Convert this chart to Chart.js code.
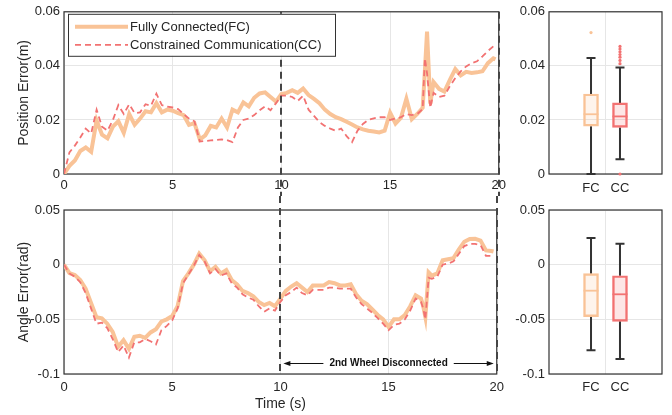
<!DOCTYPE html>
<html>
<head>
<meta charset="utf-8">
<script src="https://cdn.jsdelivr.net/npm/chart.js@4.4.1/dist/chart.umd.min.js"></script>
<style>
  body { margin: 0; background: #fff; }
  #wrap { position: relative; width: 672px; height: 415px; }
  canvas { position: absolute; }
</style>
</head>
<body>
<div id="wrap">
  <canvas id="posLine" width="510" height="196" style="left:0;top:0"></canvas>
  <canvas id="posBox" width="162" height="196" style="left:510px;top:0"></canvas>
  <canvas id="angLine" width="510" height="219" style="left:0;top:196px"></canvas>
  <canvas id="angBox" width="162" height="219" style="left:510px;top:196px"></canvas>
</div>
<script>
// time stamps (s)
const time = [0,0.25,0.5,0.75,1,1.25,1.5,1.75,2,2.25,2.5,2.75,3,3.25,3.5,3.75,4,4.25,4.5,4.75,
  5,5.25,5.5,5.75,6,6.25,6.5,6.75,7,7.25,7.5,7.75,8,8.25,8.5,8.75,9,9.25,9.5,9.75,
  10,10.25,10.5,10.75,11,11.25,11.5,11.75,12,12.25,12.5,12.75,13,13.25,13.5,13.75,14,14.25,14.5,14.75,
  15,15.25,15.5,15.75,16,16.25,16.5,16.6,16.7,16.85,17,17.25,17.5,17.75,18,18.25,18.5,18.75,19,19.25,19.5,19.75,19.85];

// position error (m)
const posFC = [0,0.003,0.005,0.0085,0.0098,0.0082,0.0198,0.0145,0.0132,0.0175,
  0.0195,0.0152,0.0222,0.0182,0.0205,0.0232,0.0228,0.0262,0.0228,0.0238,
  0.0234,0.0225,0.0218,0.0182,0.0188,0.0128,0.0143,0.0178,0.0172,0.0205,
  0.0172,0.0238,0.0228,0.0265,0.0250,0.0282,0.0298,0.0302,0.0285,0.0268,
  0.0296,0.0300,0.0310,0.0300,0.0316,0.0292,0.0278,0.0262,0.0238,0.0222,
  0.0210,0.0203,0.0193,0.0183,0.0172,0.0165,0.0160,0.0157,0.0154,0.0160,
  0.0227,0.0187,0.0208,0.0278,0.0203,0.0222,0.0245,
  0.0380,0.0527,0.0260,
  0.0340,0.0315,0.0305,0.0348,0.0388,0.0365,0.0378,0.0374,0.0376,0.0380,0.0410,0.0428,
  0.0424];
const posCC = [0,0.008,0.0105,0.0135,0.0168,0.0150,0.0238,0.0175,0.0160,0.0200,
  0.0255,0.0222,0.0258,0.0225,0.0228,0.0258,0.0252,0.0297,0.0255,0.0249,
  0.0246,0.0240,0.0222,0.0205,0.0195,0.0120,0.0122,0.0124,0.0126,0.0128,
  0.0125,0.0118,0.0172,0.0200,0.0205,0.0218,0.0236,0.0250,0.0236,0.0262,
  0.0290,0.0290,0.0285,0.0270,0.0290,0.0238,0.0215,0.0192,0.0178,0.0168,
  0.0160,0.0168,0.0140,0.0118,0.0160,0.0185,0.0200,0.0206,0.0210,0.0210,
  0.0200,0.0205,0.0210,0.0222,0.0218,0.0222,0.0240,
  0.0428,0.0373,0.0245,
  0.0300,0.0285,0.0290,0.0325,0.0355,0.0380,0.0398,0.0410,0.0417,0.0435,0.0455,0.0472,
  0.0465];

// angle error (rad)
const angFC = [0,-0.0078,-0.0095,-0.014,-0.022,-0.035,-0.048,-0.049,-0.054,-0.0615,
  -0.075,-0.069,-0.077,-0.066,-0.065,-0.067,-0.062,-0.059,-0.052,-0.050,
  -0.047,-0.038,-0.015,-0.008,0.000,0.010,0.004,-0.006,-0.002,-0.008,
  -0.005,-0.014,-0.018,-0.024,-0.026,-0.029,-0.034,-0.037,-0.035,-0.038,
  -0.031,-0.024,-0.020,-0.017,-0.021,-0.025,-0.019,-0.019,-0.019,-0.016,
  -0.017,-0.019,-0.019,-0.018,-0.027,-0.033,-0.036,-0.041,-0.046,-0.050,
  -0.057,-0.050,-0.050,-0.046,-0.038,-0.028,-0.031,
  -0.038,-0.048,-0.007,
  -0.010,-0.008,0.004,0.005,0.006,0.014,0.021,0.0235,0.0236,0.022,0.013,0.0125,
  0.012];
const angCC = [0,-0.008,-0.011,-0.016,-0.026,-0.040,-0.054,-0.053,-0.058,-0.068,
  -0.080,-0.074,-0.085,-0.071,-0.071,-0.068,-0.070,-0.073,-0.060,-0.056,
  -0.051,-0.040,-0.017,-0.009,-0.001,0.009,0.003,-0.008,-0.004,-0.010,
  -0.008,-0.017,-0.021,-0.027,-0.030,-0.032,-0.038,-0.043,-0.040,-0.042,
  -0.034,-0.028,-0.025,-0.021,-0.026,-0.028,-0.023,-0.023,-0.023,-0.021,
  -0.021,-0.022,-0.022,-0.022,-0.030,-0.036,-0.040,-0.044,-0.049,-0.054,
  -0.060,-0.055,-0.054,-0.050,-0.042,-0.031,-0.034,
  -0.040,-0.050,-0.012,
  -0.013,-0.011,0.000,0.001,0.003,0.010,0.017,0.019,0.019,0.018,0.008,0.008,
  0.007];

// box plot statistics, FC then CC
const boxLabels = ["FC", "CC"];
const posLower = [0, 0.0055];
const posQ1 = [0.0177, 0.0172];
const posMedian = [0.0221, 0.0213];
const posQ3 = [0.0296, 0.0263];
const posUpper = [0.0429, 0.0394];
const posOutliers = [[0.0523], [0, 0.0408, 0.0420, 0.0432, 0.0442, 0.0452, 0.0462, 0.0472]];
const angLower = [-0.0783, -0.0863];
const angQ1 = [-0.0476, -0.0518];
const angMedian = [-0.0238, -0.0271];
const angQ3 = [-0.0082, -0.0101];
const angUpper = [0.0244, 0.0192];
const angOutliers = [[], []];

// wheel 2 cut off between these times
const faultTimes = [10, 20];

const fcColor = "#F9C397";
const ccColor = "#F27272";
const fcFill = "rgba(249,195,151,0.18)";
const ccFill = "rgba(242,114,114,0.18)";
const gridColor = "#e6e6e6";
const axisColor = "#333333";

Chart.defaults.font.family = "Arial, 'Liberation Sans', sans-serif";
Chart.defaults.font.size = 13;
Chart.defaults.color = "#262626";

const fmt = (v) => String(+(+v).toFixed(3));

// box round the plot area
const frame = {
  id: "frame",
  beforeDatasetsDraw(chart) {
    const { ctx, chartArea: a } = chart;
    ctx.save();
    ctx.strokeStyle = axisColor;
    ctx.lineWidth = 1.2;
    ctx.strokeRect(a.left, a.top, a.right - a.left, a.bottom - a.top);
    ctx.restore();
  },
};

// dashed markers at fault start / end, running across both panels
function faultLines(upper) {
  return {
    id: "faultLines",
    afterDatasetsDraw(chart) {
      const { ctx, chartArea, scales } = chart;
      const top = upper ? chartArea.top : 0;
      const bottom = upper ? chart.height : chartArea.bottom;
      ctx.save();
      ctx.strokeStyle = "#454545";
      ctx.lineWidth = 2;
      ctx.setLineDash([7, 5]);
      faultTimes.forEach((t) => {
        const px = Math.round(scales.x.getPixelForValue(t));
        ctx.beginPath();
        ctx.moveTo(px, top);
        ctx.lineTo(px, bottom);
        ctx.stroke();
      });
      ctx.restore();
    },
  };
}

const legendBox = {
  id: "legendBox",
  afterDraw(chart) {
    const { ctx, chartArea } = chart;
    const bx = chartArea.left + 4, by = chartArea.top + 2;
    ctx.save();
    ctx.fillStyle = "#fff";
    ctx.fillRect(bx, by, 267, 42);
    ctx.strokeStyle = axisColor;
    ctx.lineWidth = 1;
    ctx.strokeRect(bx + 0.5, by + 0.5, 267, 42);
    chart.data.datasets.forEach((ds, i) => {
      const y = by + 13 + i * 18;
      ctx.strokeStyle = ds.borderColor;
      ctx.lineWidth = ds.borderWidth;
      ctx.setLineDash(ds.borderDash || []);
      ctx.beginPath();
      ctx.moveTo(bx + 7, y);
      ctx.lineTo(bx + 60, y);
      ctx.stroke();
      ctx.setLineDash([]);
      ctx.fillStyle = "#262626";
      ctx.font = "13px Arial, 'Liberation Sans', sans-serif";
      ctx.textBaseline = "middle";
      ctx.fillText(ds.label, bx + 62, y + 1);
    });
    ctx.restore();
  },
};

// double arrow marking the disconnected interval
const faultSpan = {
  id: "faultSpan",
  afterDraw(chart) {
    const { ctx, scales } = chart;
    const y = Math.round(scales.y.getPixelForValue(-0.09)) + 0.5;
    const x1 = scales.x.getPixelForValue(faultTimes[0]) + 3;
    const x2 = scales.x.getPixelForValue(faultTimes[1]) - 3;
    const mid = (x1 + x2) / 2;
    const label = "2nd Wheel Disconnected";
    ctx.save();
    ctx.font = "bold 10px 'Liberation Sans', Arial, sans-serif";
    const half = ctx.measureText(label).width / 2 + 6;
    ctx.strokeStyle = "#111";
    ctx.fillStyle = "#111";
    ctx.lineWidth = 1;
    ctx.beginPath();
    ctx.moveTo(x1 + 4, y); ctx.lineTo(mid - half, y);
    ctx.moveTo(mid + half, y); ctx.lineTo(x2 - 4, y);
    ctx.stroke();
    [[x1, 1], [x2, -1]].forEach(([x, d]) => {
      ctx.beginPath();
      ctx.moveTo(x, y);
      ctx.lineTo(x + 7 * d, y - 2.5);
      ctx.lineTo(x + 7 * d, y + 2.5);
      ctx.closePath();
      ctx.fill();
    });
    ctx.textAlign = "center";
    ctx.textBaseline = "middle";
    ctx.fillText(label, mid, y);
    ctx.restore();
  },
};

function lineChart(id, fc, cc, yMin, yMax, step, yTitle, opts) {
  return new Chart(document.getElementById(id), {
    type: "line",
    data: {
      labels: time,
      datasets: [
        {
          label: "Fully Connected(FC)",
          data: fc,
          borderColor: fcColor,
          borderWidth: 4,
          pointRadius: 0,
          order: 1,
        },
        {
          label: "Constrained Communication(CC)",
          data: cc,
          borderColor: ccColor,
          borderWidth: 1.8,
          borderDash: [6, 4],
          pointRadius: 0,
          order: 0,
        },
      ],
    },
    options: {
      responsive: false,
      animation: false,
      layout: { padding: { top: opts.top, right: 11, left: 0, bottom: 0 } },
      plugins: { legend: { display: false }, tooltip: { enabled: false } },
      scales: {
        x: {
          type: "linear",
          min: 0,
          max: 20,
          ticks: { stepSize: 5, padding: opts.xPad, maxRotation: 0 },
          grid: { color: gridColor, drawTicks: false },
          border: { display: false },
          title: {
            display: !!opts.xTitle,
            text: opts.xTitle || "",
            font: { size: 14 },
            padding: { top: 0, bottom: 2 },
          },
          afterFit: (s) => { s.height = opts.xHeight; },
        },
        y: {
          min: yMin,
          max: yMax,
          ticks: { stepSize: step, padding: 4, callback: fmt },
          grid: { color: gridColor, drawTicks: false },
          border: { display: false },
          title: {
            display: true,
            text: yTitle,
            font: { size: 14 },
            padding: { top: 16, bottom: 0 },
          },
          afterFit: (s) => { s.width = 64; },
        },
      },
    },
    plugins: opts.plugins,
  });
}

function boxPlugin(lower, q1, median, q3, upper, outliers) {
  const colors = [fcColor, ccColor];
  return {
    id: "boxParts",
    beforeDatasetsDraw(chart) {
      const { ctx, scales: { x, y } } = chart;
      ctx.save();
      ctx.strokeStyle = "#333";
      ctx.lineWidth = 2;
      boxLabels.forEach((_, i) => {
        const px = x.getPixelForValue(i + 1);
        ctx.beginPath();
        ctx.moveTo(px, y.getPixelForValue(q3[i]));
        ctx.lineTo(px, y.getPixelForValue(upper[i]));
        ctx.moveTo(px, y.getPixelForValue(q1[i]));
        ctx.lineTo(px, y.getPixelForValue(lower[i]));
        [upper[i], lower[i]].forEach((v) => {
          const py = y.getPixelForValue(v);
          ctx.moveTo(px - 4.5, py);
          ctx.lineTo(px + 4.5, py);
        });
        ctx.stroke();
      });
      ctx.restore();
    },
    afterDatasetsDraw(chart) {
      const { ctx, scales: { x, y } } = chart;
      ctx.save();
      boxLabels.forEach((_, i) => {
        const px = x.getPixelForValue(i + 1);
        const pm = y.getPixelForValue(median[i]);
        ctx.strokeStyle = colors[i];
        ctx.lineWidth = 1.8;
        ctx.beginPath();
        ctx.moveTo(px - 7.5, pm);
        ctx.lineTo(px + 7.5, pm);
        ctx.stroke();
        ctx.fillStyle = colors[i];
        outliers[i].forEach((v) => {
          ctx.beginPath();
          ctx.arc(px, y.getPixelForValue(v), 1.6, 0, Math.PI * 2);
          ctx.fill();
        });
      });
      ctx.restore();
    },
  };
}

function boxChart(id, lower, q1, median, q3, upper, outliers, yMin, yMax, step, opts) {
  return new Chart(document.getElementById(id), {
    type: "bar",
    data: {
      datasets: [
        {
          data: boxLabels.map((_, i) => ({ x: i + 1, y: [q1[i], q3[i]] })),
          backgroundColor: [fcFill, ccFill],
          borderColor: [fcColor, ccColor],
          borderWidth: 1.8,
          borderSkipped: false,
          barThickness: 15,
        },
      ],
    },
    options: {
      responsive: false,
      animation: false,
      layout: { padding: { top: opts.top, right: 10, left: 0, bottom: 0 } },
      plugins: { legend: { display: false }, tooltip: { enabled: false } },
      scales: {
        x: {
          type: "linear",
          offset: false,
          min: -0.45,
          max: 3.45,
          afterBuildTicks: (s) => { s.ticks = [{ value: 1 }, { value: 1.5 }, { value: 2 }]; },
          ticks: {
            autoSkip: false,
            maxRotation: 0,
            padding: opts.xPad,
            callback: (v) => (v === 1 ? boxLabels[0] : v === 2 ? boxLabels[1] : ""),
          },
          grid: {
            drawTicks: false,
            offset: false,
            color: (c) => (c.tick && c.tick.value === 1.5 ? gridColor : "rgba(0,0,0,0)"),
          },
          border: { display: false },
          afterFit: (s) => { s.height = opts.xHeight; },
        },
        y: {
          min: yMin,
          max: yMax,
          ticks: { stepSize: step, padding: 4, callback: fmt },
          grid: { color: gridColor, drawTicks: false },
          border: { display: false },
          afterFit: (s) => { s.width = 39; },
        },
      },
    },
    plugins: [frame, boxPlugin(lower, q1, median, q3, upper, outliers)],
  });
}

lineChart("posLine", posFC, posCC, 0, 0.06, 0.02, "Position Error(m)", {
  top: 10, xHeight: 22, xPad: 4,
  plugins: [frame, faultLines(true), legendBox],
});

lineChart("angLine", angFC, angCC, -0.1, 0.05, 0.05, "Angle Error(rad)", {
  top: 14, xHeight: 41, xPad: 6, xTitle: "Time (s)",
  plugins: [frame, faultLines(false), faultSpan],
});

boxChart("posBox", posLower, posQ1, posMedian, posQ3, posUpper, posOutliers, 0, 0.06, 0.02, {
  top: 10, xHeight: 22, xPad: 7,
});

boxChart("angBox", angLower, angQ1, angMedian, angQ3, angUpper, angOutliers, -0.1, 0.05, 0.05, {
  top: 14, xHeight: 41, xPad: 6,
});
</script>
</body>
</html>
